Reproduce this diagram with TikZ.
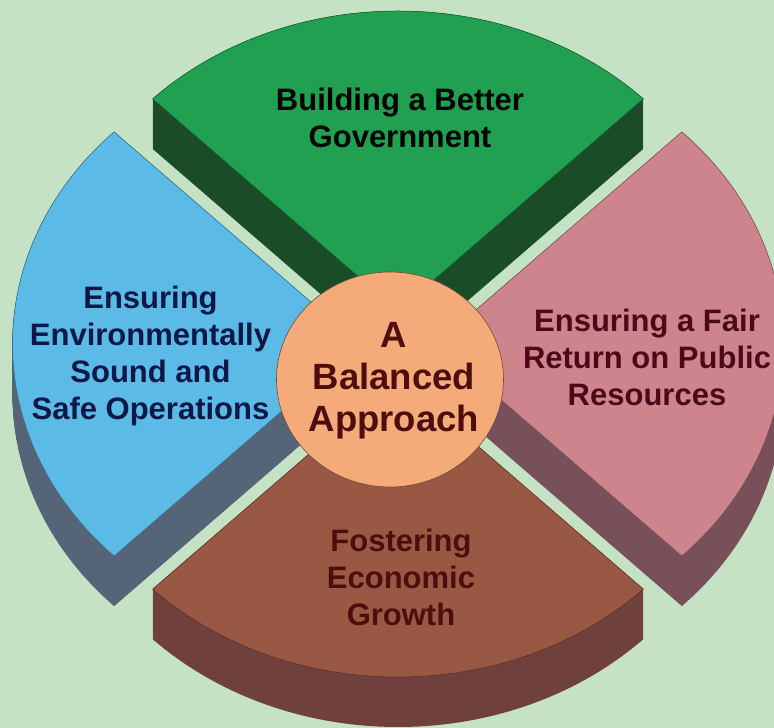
\documentclass[tikz,border=0pt]{standalone}
\usepackage{fontspec}
\setmainfont{Liberation Sans}
\usetikzlibrary{shapes.geometric}
\definecolor{bg}{RGB}{198,226,196}
\definecolor{gtop}{RGB}{32,160,80}
\definecolor{gside}{RGB}{26,76,40}
\definecolor{btop}{RGB}{92,186,230}
\definecolor{bside}{RGB}{86,100,120}
\definecolor{ptop}{RGB}{205,132,140}
\definecolor{pside}{RGB}{120,80,90}
\definecolor{wtop}{RGB}{152,88,68}
\definecolor{wside}{RGB}{112,64,60}
\definecolor{hub}{RGB}{245,170,122}
\definecolor{navy}{RGB}{12,24,72}
\definecolor{maroon}{RGB}{76,10,24}
\definecolor{dbrown}{RGB}{76,14,14}
\tikzset{
  pics/wedge/.style n args={3}{code={
    \foreach \d in {0,1,...,50}{
      \fill[#3] (0,-\d) -- ++({347*cos(#1)},{300*sin(#1)})
        arc[start angle=#1,delta angle=90,x radius=347,y radius=300] -- cycle;
    }
    \filldraw[fill=#2, draw=#2!55!black, line width=0.5pt] (0,0) -- ({347*cos(#1)},{300*sin(#1)})
      arc[start angle=#1,delta angle=90,x radius=347,y radius=300] -- cycle;
  }},
  lbl/.style={font=\bfseries\fontsize{31}{37}\selectfont, align=center, inner sep=0pt, anchor=north},
  hublbl/.style={font=\bfseries\fontsize{36.5}{42}\selectfont, align=center, inner sep=0pt, anchor=north}
}
\begin{document}
\begin{tikzpicture}[x=1pt,y=1pt]
\useasboundingbox (0,0) rectangle (774,728);
\clip (0,0) rectangle (774,728);
\fill[bg] (0,0) rectangle (774,728);
% sectors, back to front
\pic (green) at (398,417) {wedge={45}{gtop}{gside}};
\pic (blue) at (359.5,384) {wedge={135}{btop}{bside}};
\pic (pink) at (436.5,384) {wedge={-45}{ptop}{pside}};
\pic (brown) at (398,351) {wedge={225}{wtop}{wside}};
% hub
\node[ellipse, minimum width=227pt, minimum height=215pt, inner sep=0pt,
      fill=hub, draw=hub!45!black, line width=0.6pt] (hubshape) at (390,348.5) {};
% labels
\node[lbl, text=black] (tgreen) at (400,640) {Building a Better\\Government};
\node[lbl, text=navy] (tblue) at (150.5,442.5) {Ensuring\\Environmentally\\Sound and\\Safe Operations};
\node[lbl, text=maroon] (tpink) at (647,419.3) {Ensuring a Fair\\Return on Public\\Resources};
\node[lbl, text=dbrown] (tbrown) at (401,199) {Fostering\\Economic\\Growth};
\node[hublbl, text=dbrown] (thub) at (394,406) {A\\Balanced\\Approach};
\end{tikzpicture}
\end{document}
